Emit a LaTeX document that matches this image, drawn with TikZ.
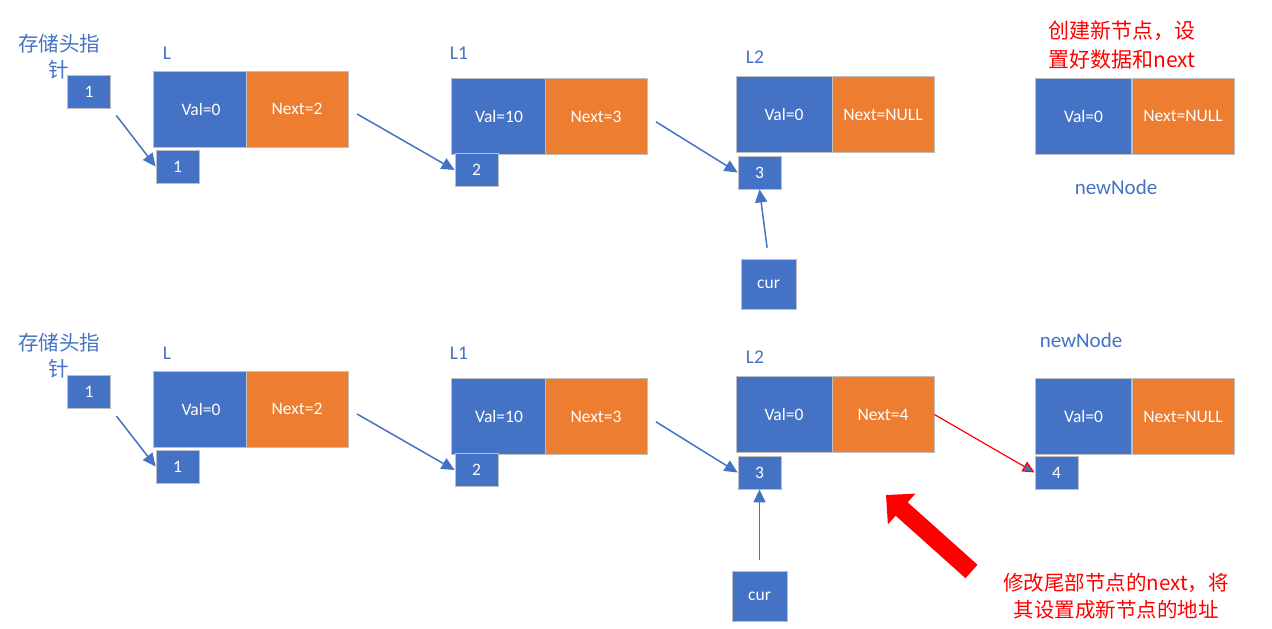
\documentclass[tikz,border=0pt]{standalone}
\usepackage{fontspec}
\setmainfont{Carlito}
\newfontfamily\cjk{Noto Sans CJK SC}
\usetikzlibrary{arrows.meta}
\definecolor{nblue}{HTML}{4472C4}
\definecolor{norange}{HTML}{ED7D31}
\definecolor{nborder}{HTML}{BFBFBF}
\definecolor{nred}{HTML}{FF0000}
\begin{document}
\begin{tikzpicture}[x=1pt,y=-1pt,
 valbox/.style={fill=nblue,draw=nborder,line width=0.8pt,text=white,minimum width=96pt,minimum height=76pt,inner sep=0pt,font=\fontsize{17.5}{20}\selectfont},
 nextbox/.style={valbox,fill=norange,minimum width=102pt},
 ptrbox/.style={valbox,minimum width=43pt,minimum height=33pt},
 curbox/.style={valbox,minimum width=55pt,minimum height=50pt},
 lbl/.style={text=nblue,font=\fontsize{19.5}{22}\selectfont,inner sep=0pt},
 nnlbl/.style={text=nblue,font=\fontsize{21}{24}\selectfont,inner sep=0pt},
 cnlbl/.style={text=nblue,font=\cjk\fontsize{20.5}{26}\selectfont,align=center,inner sep=0pt},
 note/.style={text=nred,font=\cjk\fontsize{21}{29}\selectfont,align=center,inner sep=0pt},
 arr/.style={draw=nblue,line width=1.5pt,-{Triangle[length=13pt,width=12pt]},shorten <=10pt},
 redarr/.style={draw=nred,line width=1.2pt,-{Triangle[length=12pt,width=11pt,fill=nblue]},shorten <=0pt},
 bigarr/.style={draw=nred,line width=18pt,-{Triangle[length=21pt,width=40pt]}},
]
\useasboundingbox (0,0) rectangle (1272,629);

% ---------- top row ----------
\node[cnlbl] (tcap) at (59,57) {存储头指\\针};
\node[ptrbox] (th) at (89,91.5) {1};
\node[lbl] (tLl) at (167,53) {L};
\node[valbox] (tLv) at (201,109) {Val=0};
\node[nextbox] (tLn) at (297,109) {Next=2};
\node[ptrbox] (tb1) at (177.5,166.5) {1};

\node[lbl] (tL1l) at (459,53) {L1};
\node[valbox] (tL1v) at (499,116.5) {Val=10};
\node[nextbox] (tL1n) at (596,116.5) {Next=3};
\node[ptrbox] (tb2) at (476.5,170) {2};

\node[lbl] (tL2l) at (755,57) {L2};
\node[valbox] (tL2v) at (784,114.5) {Val=0};
\node[nextbox] (tL2n) at (883,114.5) {Next=NULL};
\node[ptrbox] (tb3) at (759.5,172.5) {3};
\node[curbox] (tcur) at (768.5,284) {cur};

\node[note] (tnote) at (1122,45) {创建新节点，设\\置好数据和next};
\node[valbox] (tNv) at (1083.5,116) {Val=0};
\node[nextbox] (tNn) at (1183,116) {Next=NULL};
\node[nnlbl] (tNl) at (1116,187) {newNode};

\draw[arr,shorten <=9pt] (th.south east) -- (tb1.west);
\draw[arr] (tLn.east) -- (tb2.west);
\draw[arr] (tL1n.east) -- (tb3.west);
\draw[arr,shorten <=11pt] (tcur.north) -- (tb3.south);

% ---------- bottom row ----------
\node[cnlbl] (bcap) at (59,356) {存储头指\\针};
\node[ptrbox] (bh) at (89,392) {1};
\node[lbl] (bLl) at (167,353) {L};
\node[valbox] (bLv) at (201,409) {Val=0};
\node[nextbox] (bLn) at (297,409) {Next=2};
\node[ptrbox] (bb1) at (177.5,466.5) {1};

\node[lbl] (bL1l) at (459,353) {L1};
\node[valbox] (bL1v) at (499,416.5) {Val=10};
\node[nextbox] (bL1n) at (596,416.5) {Next=3};
\node[ptrbox] (bb2) at (476.5,470) {2};

\node[lbl] (bL2l) at (755,357) {L2};
\node[valbox] (bL2v) at (784,414.5) {Val=0};
\node[nextbox] (bL2n) at (883,414.5) {Next=4};
\node[ptrbox] (bb3) at (759.5,472.5) {3};
\node[curbox] (bcur) at (759.5,596) {cur};

\node[nnlbl] (bNl) at (1081,340) {newNode};
\node[valbox] (bNv) at (1083.5,416.5) {Val=0};
\node[nextbox] (bNn) at (1183,416.5) {Next=NULL};
\node[ptrbox] (bb4) at (1056.5,472.5) {4};

\draw[arr,shorten <=9pt] (bh.south east) -- (bb1.west);
\draw[arr] (bLn.east) -- (bb2.west);
\draw[arr] (bL1n.east) -- (bb3.west);
\draw[arr,shorten <=11pt] (bcur.north) -- (bb3.south);
\draw[redarr] (bL2n.east) -- (bb4.west);

% big red pointer
\coordinate (bigtail) at (971.5,571.5);
\coordinate (bigtip) at (886,495);
\draw[bigarr] (bigtail) -- (bigtip);
\node[note,font=\cjk\fontsize{20.5}{27}\selectfont] (bnote) at (1116,596) {修改尾部节点的next，将\\其设置成新节点的地址};
\end{tikzpicture}
\end{document}
